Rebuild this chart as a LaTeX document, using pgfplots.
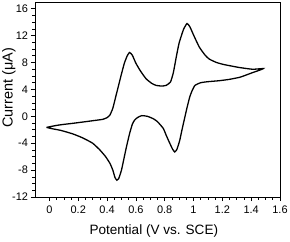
\documentclass[border=0pt]{standalone}
\usepackage{fontspec}
\setmainfont{Liberation Sans}
\usepackage{pgfplots}
\pgfplotsset{compat=1.18}
\begin{document}
\begin{tikzpicture}
\begin{axis}[
  scale only axis,
  width=245bp, height=195bp,
  xmin=-0.1, xmax=1.6, ymin=-12, ymax=17,
  xtick={0,0.2,...,1.61}, ytick={-12,-8,...,16},
  minor x tick num=3, minor y tick num=3,
  xtick pos=left, ytick pos=left, tick align=outside,
  major tick length=4bp, minor tick length=2.5bp,
  every tick/.style={black, line width=0.6pt},
  axis line style={line width=0.6pt},
  /pgf/number format/assume math mode=true,
  ticklabel style={font=\fontsize{11}{13}\selectfont},
  xticklabel style={yshift=-1.5bp, /pgf/number format/.cd, fixed, precision=1},
  yticklabel style={xshift=0.5bp},
  xlabel={Potential (V vs. SCE)},
  ylabel={Current (μA)},
  xlabel style={font=\fontsize{13.6}{15}\selectfont, at={([yshift=-34bp]axis description cs:0.485,0)}, anchor=center},
  ylabel style={font=\fontsize{14.5}{16}\selectfont, at={([xshift=-26bp]axis description cs:0,0.56)}, anchor=center},
]
\addplot[black, line width=1.3pt, smooth, tension=0.3] coordinates {
(-0.02,-1.65) (0.05,-1.35) (0.10,-1.2) (0.16,-1.05) (0.25,-0.8) (0.32,-0.6)
(0.37,-0.45) (0.40,-0.2) (0.42,0.2) (0.44,1.2) (0.46,2.9) (0.48,4.6) (0.50,6.3)
(0.52,7.9) (0.54,9.0) (0.556,9.5) (0.575,9.1) (0.60,7.9) (0.63,6.8) (0.67,5.6)
(0.71,4.9) (0.74,4.6) (0.78,4.5) (0.81,4.6) (0.84,5.1) (0.86,6.5) (0.88,8.8)
(0.90,10.9) (0.93,12.9) (0.955,13.8) (0.975,13.3) (1.0,12.1) (1.04,10.3)
(1.08,9.1) (1.11,8.5) (1.16,8.0) (1.21,7.7) (1.27,7.45) (1.32,7.25) (1.41,7.0)
(1.484,7.1)
(1.45,6.8) (1.41,6.5) (1.36,6.1) (1.32,5.8) (1.25,5.5) (1.18,5.3) (1.10,5.15)
(1.05,5.0) (1.01,4.6) (0.99,3.8) (0.974,2.9) (0.955,1.3) (0.94,-0.1) (0.92,-2.0)
(0.904,-3.6) (0.885,-4.9) (0.87,-5.3) (0.855,-4.9) (0.835,-4.0) (0.81,-2.8)
(0.79,-1.8) (0.75,-0.8) (0.72,-0.35) (0.68,0.0) (0.64,0.1) (0.61,-0.2)
(0.59,-0.6) (0.575,-1.2) (0.556,-2.6) (0.535,-4.5) (0.52,-6.0) (0.50,-8.0)
(0.48,-9.3) (0.468,-9.5) (0.455,-9.1) (0.44,-8.0) (0.42,-7.0) (0.39,-6.0)
(0.35,-5.0) (0.30,-4.0) (0.23,-3.2) (0.16,-2.6) (0.08,-2.1) (0.02,-1.85)
(-0.02,-1.65)
};
\end{axis}
\pgfresetboundingbox
\path ([xshift=-35bp,yshift=-45bp]current axis.south west) rectangle ([xshift=10bp,yshift=2bp]current axis.north east);
\end{tikzpicture}
\end{document}
